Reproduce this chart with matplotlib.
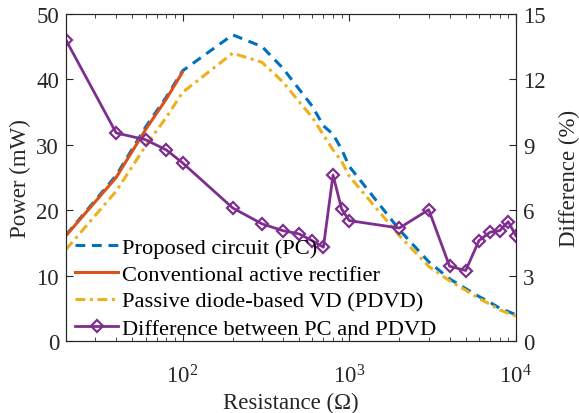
import numpy as np
import matplotlib
matplotlib.use("Agg")
import matplotlib.pyplot as plt

plt.rcParams['font.family'] = ['Liberation Serif', 'DejaVu Serif']
plt.rcParams['mathtext.fontset'] = 'custom'
plt.rcParams['mathtext.rm'] = 'Liberation Serif'

# --- dados ---
res = [20, 40, 60, 80, 100, 200, 300, 400, 500, 600, 700, 800, 900, 1000,
       2000, 3000, 4000, 5000, 6000, 7000, 8000, 9000, 10000]
p_pc = [16.2, 25.3, 32.7, 37.3, 41.3, 46.8, 45.0, 41.7, 38.5, 35.9, 32.9, 31.6,
        29.3, 26.7, 17.0, 12.1, 9.5, 8.0, 6.8, 5.9, 5.0, 4.5, 4.0]
p_pdvd = [14.0, 22.9, 29.8, 34.2, 38.0, 44.0, 42.6, 39.6, 36.6, 34.2, 31.5, 29.2,
          27.5, 25.2, 16.1, 11.4, 9.2, 7.75, 6.5, 5.6, 4.75, 4.25, 3.8]
res_conv = [20, 40, 60, 80, 100]
p_conv = [16.1, 25.0, 32.3, 37.0, 41.1]
diff = [13.8, 9.54, 9.23, 8.76, 8.17, 6.10, 5.37, 5.06, 4.91, 4.60, 4.30, 7.61,
        6.06, 5.52, 5.18, 6.02, 3.43, 3.23, 4.60, 4.99, 5.06, 5.47, 4.83]

c_blue = '#0072BD'
c_red = '#D95319'
c_yel = '#EDB120'
c_pur = '#7E2F8E'
c_ax = '#262626'

fig = plt.figure(figsize=(5.79, 4.14), dpi=100)
ax = fig.add_axes([0.114, 0.174, 0.777, 0.790])
ax2 = ax.twinx()

l1, = ax.plot(res, p_pc, '--', color=c_blue, lw=2.2, dashes=(3.2, 2.2),
              label='Proposed circuit (PC)')
l2, = ax.plot(res_conv, p_conv, '-', color=c_red, lw=2.2,
              label='Conventional active rectifier')
l3, = ax.plot(res, p_pdvd, '-.', color=c_yel, lw=2.2, dashes=(3.2, 1.5, 1.0, 1.5),
              label='Passive diode-based VD (PDVD)')
l4, = ax2.plot(res, diff, '-', color=c_pur, lw=2.0, marker='D', ms=6.5,
               mfc='none', mew=1.6, label='Difference between PC and PDVD')

ax.set_xscale('log')
ax.set_xlim(20, 1e4)
ax.set_ylim(0, 50)
ax2.set_ylim(0, 15)
ax.set_yticks([0, 10, 20, 30, 40, 50])
ax2.set_yticks([0, 3, 6, 9, 12, 15])

ax.set_xlabel('Resistance (Ω)', fontsize=16.5, color=c_ax, labelpad=3)
ax.set_ylabel('Power (mW)', fontsize=16.5, color=c_ax, labelpad=4)
ax2.set_ylabel('Difference (%)', fontsize=16.5, color=c_ax, labelpad=10)

for a in (ax, ax2):
    for s in a.spines.values():
        s.set_color(c_ax)
        s.set_linewidth(0.8)
ax.tick_params(which='both', direction='in', top=True, right=False,
               labelsize=16.5, colors=c_ax, pad=5)
ax.tick_params(axis='x', which='both', pad=17)
ax.tick_params(which='major', length=5)
ax.tick_params(which='minor', length=3)
ax2.tick_params(which='both', direction='in', labelsize=16.5, colors=c_ax,
                length=5, pad=5)

leg = ax2.legend(handles=[l1, l2, l3, l4], loc='lower left',
                 bbox_to_anchor=(0.016, 0.0), frameon=False, fontsize=16.2,
                 handlelength=1.9, handletextpad=0.15, labelspacing=0.28,
                 borderpad=0.1, borderaxespad=0.0)
for t in leg.get_texts():
    t.set_color('#000000')

fig.savefig('out.png', dpi=100)
